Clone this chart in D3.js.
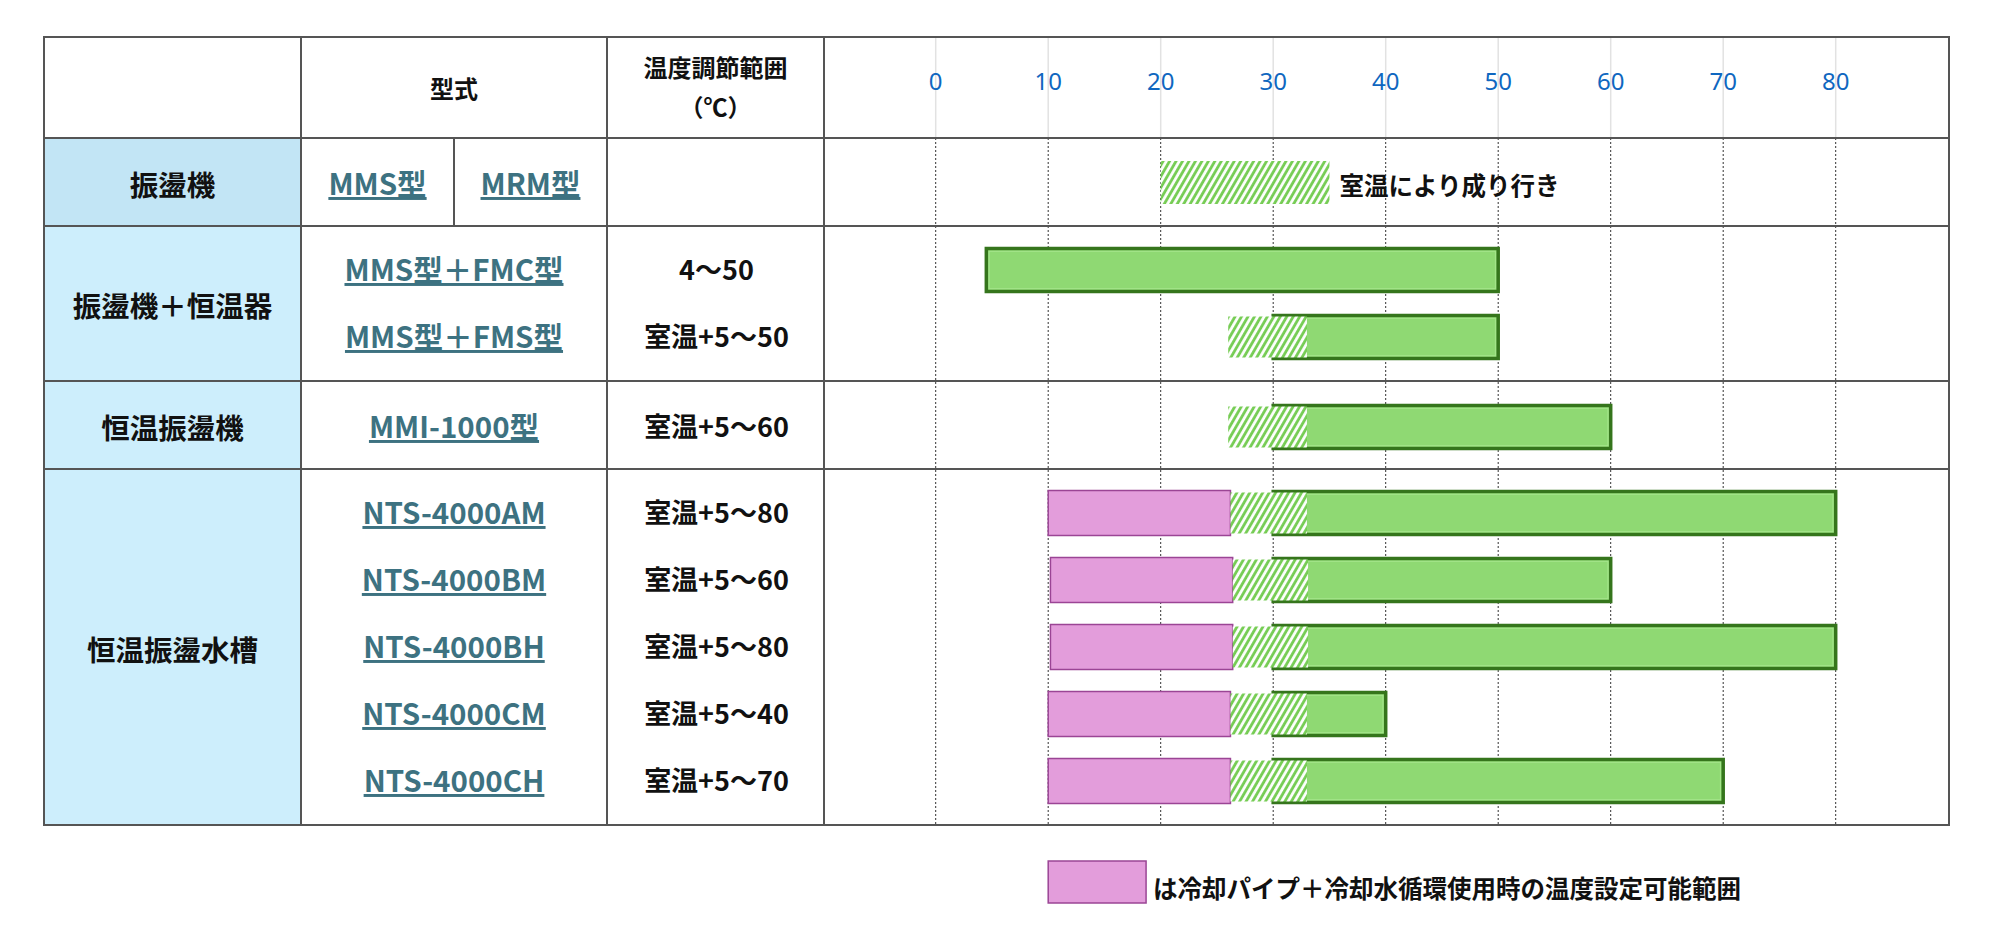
<!DOCTYPE html>
<html>
<head>
<meta charset="utf-8">
<script src="https://cdn.jsdelivr.net/npm/d3@7"></script>
<style>
  html, body { margin: 0; padding: 0; background: #fff; }
  svg { display: block; font-family: "Noto Sans CJK JP", "Noto Sans", sans-serif; }
</style>
</head>
<body>
<svg id="chart" width="2000" height="935"></svg>
<script>
// table data
const groups = ["振盪機", "振盪機＋恒温器", "恒温振盪機", "恒温振盪水槽"];
const groupRows = [1, 2, 1, 5];
const shakerModels = ["MMS型", "MRM型"];
const models = ["MMS型＋FMC型", "MMS型＋FMS型", "MMI-1000型", "NTS-4000AM", "NTS-4000BM", "NTS-4000BH", "NTS-4000CM", "NTS-4000CH"];
const modelGroup = [1, 1, 2, 3, 3, 3, 3, 3];
const modelSlot = [0, 1, 0, 0, 1, 2, 3, 4];
const rangeLabels = ["4〜50", "室温+5〜50", "室温+5〜60", "室温+5〜80", "室温+5〜60", "室温+5〜80", "室温+5〜40", "室温+5〜70"];

// bar values (°C)
const greenFrom = [4.5, 30, 30, 30, 30, 30, 30, 30];
const greenTo = [50, 50, 60, 80, 60, 80, 40, 70];
const hatchFrom = [null, 26, 26, 26.2, 26.4, 26.4, 26.2, 26.2];
const hatchTo = [null, 33, 33, 33, 33.1, 33.1, 33, 33];
const coolFrom = [null, null, null, 10, 10.2, 10.2, 10, 10];
const coolTo = [null, null, null, 26.2, 26.4, 26.4, 26.2, 26.2];

const ticks = [0, 10, 20, 30, 40, 50, 60, 70, 80];
const headerLabels = ["型式", "温度調節範囲", "（℃）"];
const ambientRange = [20, 35];
const ambientText = "室温により成り行き";
const coolLegendRange = [10, 18.7];
const coolLegendText = "は冷却パイプ＋冷却水循環使用時の温度設定可能範囲";

// layout
const tLeft = 44, tRight = 1949, tTop = 37, headerH = 101;
const colX = [tLeft, 301, 607, 824, tRight];
const splitX = 454;
const firstRowH = 88, subRowH = 67;
const lineColor = "#555";

const groupH = groupRows.map(n => firstRowH + subRowH * (n - 1));
const groupTop = [];
groupH.reduce((acc, h, i) => { groupTop[i] = acc; return acc + h; }, tTop + headerH);
const tBottom = groupTop[groupTop.length - 1] + groupH[groupH.length - 1];

const rowY = (g, slot) => groupTop[g] + (groupRows[g] > 1 ? 42 : 44) + subRowH * slot;

const x = d3.scaleLinear().domain([0, 80]).range([935.7, 1835.7]);

const svg = d3.select("#chart");
const defs = svg.append("defs");

const pat = defs.append("pattern")
  .attr("id", "hatch")
  .attr("patternUnits", "userSpaceOnUse")
  .attr("width", 5.6).attr("height", 10)
  .attr("patternTransform", "rotate(30)");
pat.append("rect").attr("width", 5.6).attr("height", 10).attr("fill", "#fff");
pat.append("line").attr("x1", 1.5).attr("x2", 1.5).attr("y1", 0).attr("y2", 10)
  .attr("stroke", "#74cc52").attr("stroke-width", 2.8);

defs.append("filter").attr("id", "soft")
  .attr("x", "-5%").attr("y", "-10%").attr("width", "110%").attr("height", "120%")
  .append("feGaussianBlur").attr("stdDeviation", 0.5);

// group label cells
svg.append("g").selectAll("rect")
  .data(groups)
  .join("rect")
  .attr("x", colX[0]).attr("y", (d, i) => groupTop[i])
  .attr("width", colX[1] - colX[0]).attr("height", (d, i) => groupH[i])
  .attr("fill", (d, i) => i === 0 ? "#c2e5f5" : "#cdeefc");

// grid lines
const grid = svg.append("g");
grid.selectAll(".gh")
  .data(ticks)
  .join("line")
  .attr("class", "gh")
  .attr("x1", d => x(d)).attr("x2", d => x(d))
  .attr("y1", tTop).attr("y2", tTop + headerH)
  .attr("stroke", "#e2e2e2").attr("stroke-width", 1.5);
grid.selectAll(".gb")
  .data(ticks)
  .join("line")
  .attr("class", "gb")
  .attr("x1", d => x(d)).attr("x2", d => x(d))
  .attr("y1", tTop + headerH).attr("y2", tBottom)
  .attr("stroke", "#333").attr("stroke-width", 1)
  .attr("stroke-dasharray", "2,2");

// tick labels
svg.append("g").selectAll("text")
  .data(ticks)
  .join("text")
  .attr("x", d => x(d)).attr("y", 80)
  .attr("text-anchor", "middle").attr("dominant-baseline", "central")
  .attr("font-family", "'Noto Sans', sans-serif")
  .attr("font-size", 24).attr("fill", "#0f67c0")
  .text(d => d);

// bars
const barH = 46;
const bars = svg.append("g");
const rows = models.map((m, i) => ({ i, cy: rowY(modelGroup[i], modelSlot[i]) + 2 }));

bars.selectAll(".cool")
  .data(rows.filter(r => coolFrom[r.i] !== null))
  .join("rect")
  .attr("class", "cool")
  .attr("x", r => x(coolFrom[r.i])).attr("y", r => r.cy - barH / 2 + 0.5)
  .attr("width", r => x(coolTo[r.i]) - x(coolFrom[r.i])).attr("height", barH - 1)
  .attr("fill", "#e39ddb").attr("stroke", "#9b4595").attr("stroke-width", 1.5);

bars.selectAll(".green")
  .data(rows)
  .join("rect")
  .attr("class", "green")
  .attr("x", r => x(greenFrom[r.i])).attr("y", r => r.cy - barH / 2 + 1.5)
  .attr("width", r => x(greenTo[r.i]) - x(greenFrom[r.i])).attr("height", barH - 3)
  .attr("fill", "#8fd973").attr("stroke", "#35751c").attr("stroke-width", 3.5);

bars.selectAll(".greenIn")
  .data(rows)
  .join("rect")
  .attr("class", "greenIn")
  .attr("x", r => x(greenFrom[r.i]) + 2.8).attr("y", r => r.cy - barH / 2 + 4.3)
  .attr("width", r => x(greenTo[r.i]) - x(greenFrom[r.i]) - 5.6).attr("height", barH - 8.6)
  .attr("fill", "none").attr("stroke", "#a6e58c").attr("stroke-width", 1);

bars.selectAll(".hatch")
  .data(rows.filter(r => hatchFrom[r.i] !== null))
  .join("rect")
  .attr("class", "hatch")
  .attr("x", r => x(hatchFrom[r.i])).attr("y", r => r.cy - barH / 2 + 2.5)
  .attr("width", r => x(hatchTo[r.i]) - x(hatchFrom[r.i])).attr("height", barH - 5)
  .attr("fill", "url(#hatch)").attr("filter", "url(#soft)");

// ambient legend in first row
const r1 = rowY(0, 0);
svg.append("rect")
  .attr("x", x(ambientRange[0])).attr("y", r1 - 21)
  .attr("width", x(ambientRange[1]) - x(ambientRange[0])).attr("height", 43)
  .attr("fill", "url(#hatch)").attr("filter", "url(#soft)");
svg.append("text")
  .attr("x", x(ambientRange[1]) + 10).attr("y", r1 + 2)
  .attr("dominant-baseline", "central")
  .attr("font-size", 24.5).attr("font-weight", "bold").attr("fill", "#111")
  .text(ambientText);

// table lines
const lines = svg.append("g").attr("stroke", lineColor).attr("stroke-width", 2);
lines.append("rect")
  .attr("x", tLeft).attr("y", tTop).attr("width", tRight - tLeft).attr("height", tBottom - tTop)
  .attr("fill", "none");
lines.selectAll(".hl")
  .data([tTop + headerH, ...groupTop.slice(1)])
  .join("line")
  .attr("class", "hl")
  .attr("x1", tLeft).attr("x2", tRight).attr("y1", d => d).attr("y2", d => d);
lines.selectAll(".vl")
  .data(colX.slice(1, 4))
  .join("line")
  .attr("class", "vl")
  .attr("x1", d => d).attr("x2", d => d).attr("y1", tTop).attr("y2", tBottom);
lines.append("line")
  .attr("x1", splitX).attr("x2", splitX)
  .attr("y1", groupTop[0]).attr("y2", groupTop[1]);

// header text
const hdr = svg.append("g").attr("font-size", 24).attr("font-weight", "bold")
  .attr("fill", "#111").attr("text-anchor", "middle").attr("dominant-baseline", "central");
hdr.append("text").attr("x", (colX[1] + colX[2]) / 2).attr("y", 87).text(headerLabels[0]);
hdr.append("text").attr("x", (colX[2] + colX[3]) / 2).attr("y", 66).text(headerLabels[1]);
hdr.append("text").attr("x", (colX[2] + colX[3]) / 2).attr("y", 105).text(headerLabels[2]);

// group labels
svg.append("g").selectAll("text")
  .data(groups)
  .join("text")
  .attr("x", (colX[0] + colX[1]) / 2)
  .attr("y", (d, i) => groupTop[i] + groupH[i] / 2 + 1)
  .attr("text-anchor", "middle").attr("dominant-baseline", "central")
  .attr("font-size", 28.5).attr("font-weight", "bold").attr("fill", "#111")
  .text(d => d);

// model names
const linkStyle = sel => sel
  .attr("text-anchor", "middle").attr("dominant-baseline", "central")
  .attr("font-size", 29.5).attr("font-weight", "bold").attr("fill", "#3d7281")
  .style("text-decoration", "underline");

svg.append("g").selectAll("text")
  .data(shakerModels)
  .join("text")
  .attr("x", (d, i) => i === 0 ? (colX[1] + splitX) / 2 : (splitX + colX[2]) / 2)
  .attr("y", rowY(0, 0))
  .call(linkStyle)
  .text(d => d);

svg.append("g").selectAll("text")
  .data(models)
  .join("text")
  .attr("x", (colX[1] + colX[2]) / 2)
  .attr("y", (d, i) => rowY(modelGroup[i], modelSlot[i]))
  .call(linkStyle)
  .text(d => d);

// range labels
svg.append("g").selectAll("text")
  .data(rangeLabels)
  .join("text")
  .attr("x", (colX[2] + colX[3]) / 2 + 1)
  .attr("y", (d, i) => rowY(modelGroup[i], modelSlot[i]))
  .attr("text-anchor", "middle").attr("dominant-baseline", "central")
  .attr("font-size", 27).attr("font-weight", "bold").attr("fill", "#111")
  .text(d => d);

// cooling legend below table
svg.append("rect")
  .attr("x", x(coolLegendRange[0])).attr("y", 861)
  .attr("width", x(coolLegendRange[1]) - x(coolLegendRange[0])).attr("height", 42)
  .attr("fill", "#e39ddb").attr("stroke", "#9b4595").attr("stroke-width", 1.5);
svg.append("text")
  .attr("x", x(coolLegendRange[1]) + 7).attr("y", 887)
  .attr("dominant-baseline", "central")
  .attr("font-size", 24.5).attr("font-weight", "bold").attr("fill", "#111")
  .text(coolLegendText);
</script>
</body>
</html>
